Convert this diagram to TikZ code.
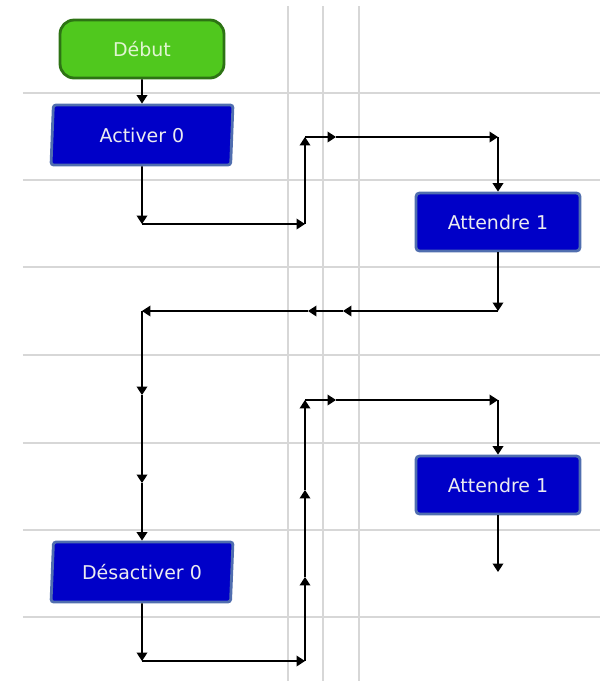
\documentclass[tikz,border=0pt]{standalone}
\usepackage{fontspec}
\newfontfamily\boxfont{DejaVu Sans}
\usetikzlibrary{shapes.geometric,arrows.meta}
\definecolor{boxblue}{RGB}{0,0,200}
\definecolor{boxedge}{RGB}{80,110,175}
\definecolor{boxtext}{RGB}{235,235,240}
\definecolor{startgreen}{RGB}{80,200,30}
\definecolor{startedge}{RGB}{45,115,20}
\definecolor{debuttext}{RGB}{225,245,210}
\definecolor{gridgray}{RGB}{215,215,215}
\begin{document}
\begin{tikzpicture}[x=0.02cm,y=-0.02cm,
  base/.style={font=\boxfont\fontsize{10.8}{12}\selectfont,text=boxtext,line width=1.6pt,minimum height=1.16cm,inner sep=0pt},
  debutbox/.style={base,fill=startgreen,draw=startedge,rounded corners=8pt,minimum width=3.28cm,text=debuttext},
  actbox/.style={base,fill=boxblue,draw=boxedge,trapezium,trapezium left angle=81,trapezium right angle=99,trapezium stretches body,minimum width=3.64cm,minimum height=1.2cm,rounded corners=1.5pt},
  waitbox/.style={base,fill=boxblue,draw=boxedge,minimum width=3.28cm,rounded corners=2pt},
  wire/.style={line width=1pt,-{Triangle[length=4.8pt,width=6pt]}},
  gridline/.style={gridgray,line width=0.8pt}]

\useasboundingbox (0,0) rectangle (600,681);

% grid
\foreach \y in {93,180,267,355,443,530,617}
  \draw[gridline] (23,\y) -- (600,\y);
\foreach \x in {288,323,359}
  \draw[gridline] (\x,6) -- (\x,681);

\node[debutbox] (debut) at (142,49) {Début};
\node[actbox] (activer) at (142,135) {Activer 0};
\node[waitbox] (attA) at (498,222) {Attendre 1};
\node[waitbox] (attB) at (498,485) {Attendre 1};
\node[actbox] (desact) at (142,572) {Désactiver 0};

% corners and junctions
\coordinate (a1) at (142,224);
\coordinate (a2) at (305,224);
\coordinate (a3) at (305,137);
\coordinate (a4) at (336,137);
\coordinate (a5) at (498,137);
\coordinate (b1) at (498,311);
\coordinate (b2) at (343,311);
\coordinate (b3) at (308,311);
\coordinate (b4) at (142,311);
\coordinate (b5) at (142,395);
\coordinate (b6) at (142,483);
\coordinate (d1) at (142,661);
\coordinate (d2) at (305,661);
\coordinate (d3) at (305,577);
\coordinate (d4) at (305,490);
\coordinate (d5) at (305,400);
\coordinate (d6) at (336,400);
\coordinate (d7) at (498,400);
\coordinate (e1) at (498,572);

\foreach \p/\q in {debut/activer,
  activer/a1,a1/a2,a2/a3,a3/a4,a4/a5,a5/attA,
  attA/b1,b1/b2,b2/b3,b3/b4,b4/b5,b5/b6,b6/desact,
  desact/d1,d1/d2,d2/d3,d3/d4,d4/d5,d5/d6,d6/d7,d7/attB,
  attB/e1}
  \draw[wire] (\p) -- (\q);

\end{tikzpicture}
\end{document}
